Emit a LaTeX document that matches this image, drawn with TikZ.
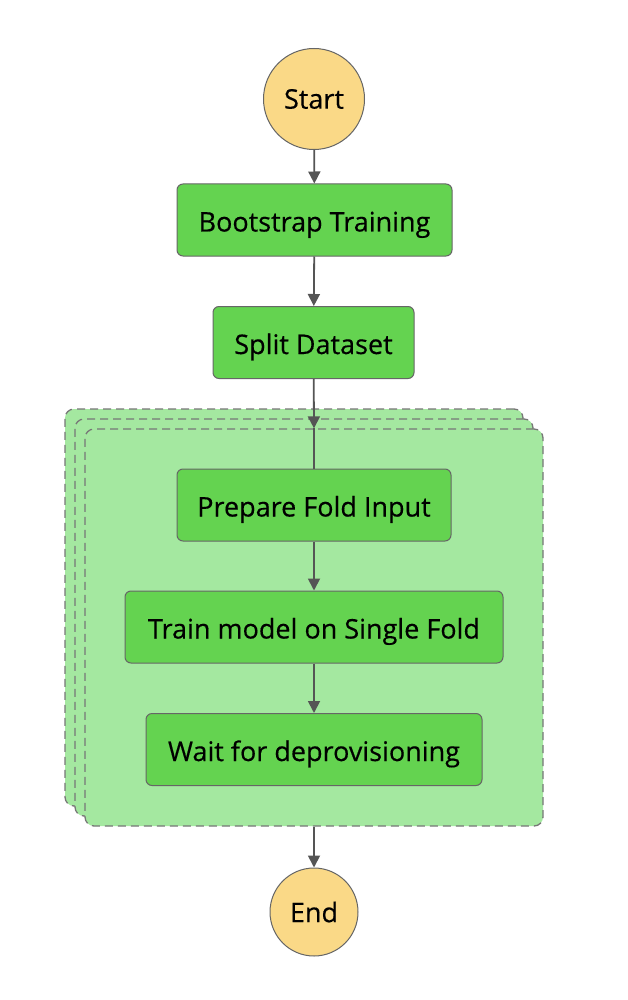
\documentclass[tikz,border=0pt]{standalone}
\usepackage{fontspec}
\setmainfont{Open Sans}
\newfontfamily\labelfont{Open Sans}[BoldFont={Open Sans},BoldFeatures={FakeBold=0.4}]
\usetikzlibrary{arrows.meta}
\definecolor{taskgreen}{HTML}{64D350}
\definecolor{mapgreen}{HTML}{A4E8A0}
\definecolor{termyellow}{HTML}{FAD987}
\definecolor{edgegrey}{HTML}{666666}
\definecolor{linegrey}{HTML}{555555}
\definecolor{dashgrey}{HTML}{777777}
\begin{document}
\begin{tikzpicture}[x=1pt,y=-1pt,
  taskbox/.style={draw=edgegrey,line width=1pt,fill=taskgreen,rounded corners=6pt,
    minimum height=72pt,inner sep=0pt,text height=25pt,text depth=2pt,
    font=\labelfont\bfseries\fontsize{27}{30}\selectfont},
  termnode/.style={circle,draw=edgegrey,line width=1pt,fill=termyellow,inner sep=0pt,
    font=\labelfont\bfseries\fontsize{27}{30}\selectfont},
  mapbox/.style={draw=dashgrey,line width=1.3pt,dash pattern=on 8pt off 5pt,fill=mapgreen,
    rounded corners=9pt,minimum width=458pt,minimum height=397pt,inner sep=0pt},
  flow/.style={draw=linegrey,line width=1.8pt},
  flowarrow/.style={flow,-{Triangle[width=12pt,length=12pt]}}]
\useasboundingbox (0,0) rectangle (628,1000);
\fill[white] (0,0) rectangle (628,1000);

\node[mapbox] (back) at (294,607.5) {};
\node[mapbox] (mid) at (304,617.5) {};
\node[mapbox] (front) at (314,627.5) {};

\node[termnode,minimum size=101pt] (start) at (314,99) {Start};
\node[taskbox,minimum width=275pt] (boot) at (314.5,220) {Bootstrap Training};
\node[taskbox,minimum width=201pt] (split) at (313.5,342.5) {Split Dataset};
\node[taskbox,minimum width=274pt] (prep) at (314,505) {Prepare Fold Input};
\node[taskbox,minimum width=378pt] (train) at (314,627) {Train model on Single Fold};
\node[taskbox,minimum width=336pt] (wait) at (314,749.5) {Wait for deprovisioning};
\node[termnode,minimum size=88pt] (end) at (314,912) {End};

\draw[flowarrow] (start) -- (boot);
\draw[flowarrow] (boot) -- (split);
\draw[flowarrow] (split) -- (front.north);
\draw[flow] (front.north) -- (prep);
\draw[flowarrow] (prep) -- (train);
\draw[flowarrow] (train) -- (wait);
\draw[flowarrow] (front.south) -- (end);
\end{tikzpicture}
\end{document}
